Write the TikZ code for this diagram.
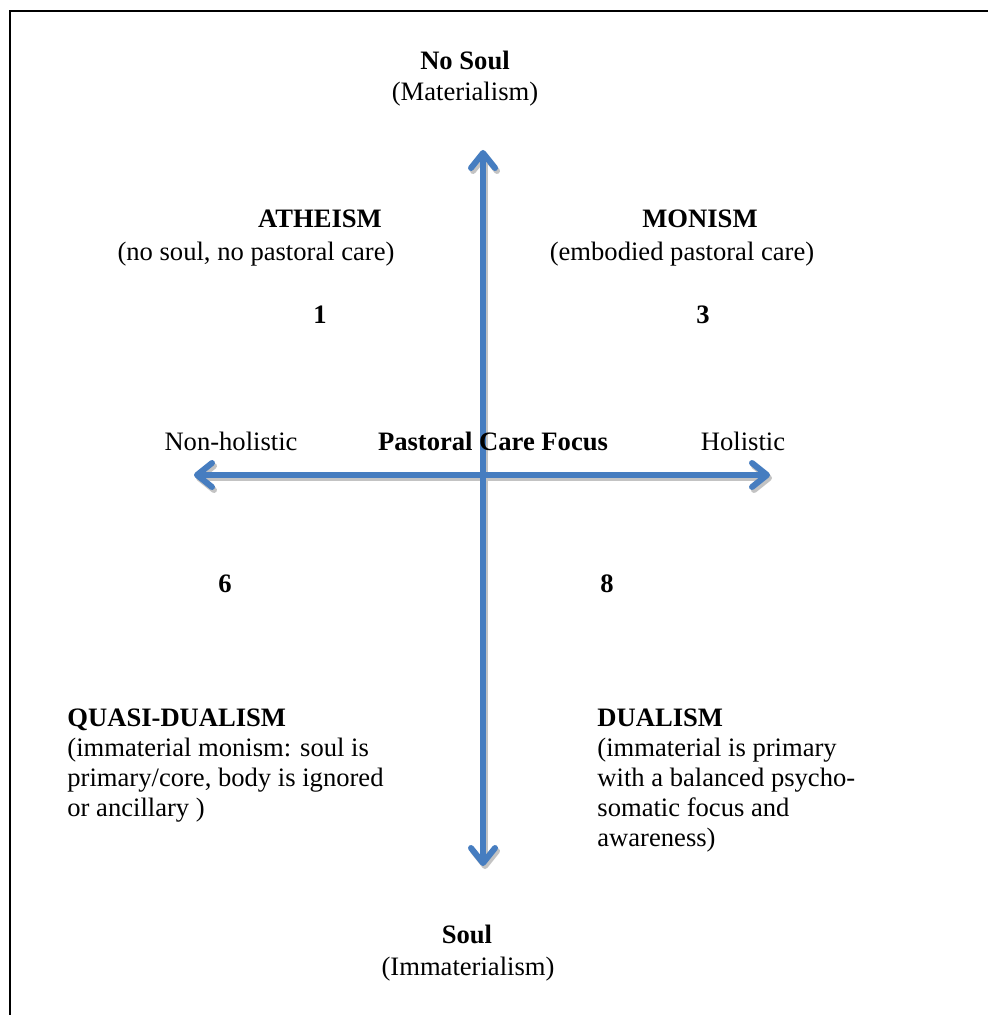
\documentclass[tikz,border=0pt]{standalone}
\usepackage{fontspec}
\setmainfont{Liberation Serif}
\usepackage{xcolor}
\usetikzlibrary{arrows.meta}
\definecolor{axisblue}{RGB}{70,125,192}
\definecolor{axisshade}{RGB}{195,195,195}

\tikzset{
  axis/.style={line width=3pt, draw=axisblue, {Straight Barb[length=7.5pt,width=12pt,round]}-{Straight Barb[length=7.5pt,width=12pt,round]}},
  axisshadow/.style={axis, draw=axisshade, transform canvas={shift={(1pt,-1.5pt)}}},
  label/.style={anchor=base, inner sep=0pt, font=\fontsize{13.3}{15}\selectfont},
  heading/.style={label, font=\fontsize{13.3}{15}\selectfont\bfseries},
  block/.style={anchor=base west, inner sep=0pt, align=left, font=\fontsize{13.3}{15}\selectfont}
}

\begin{document}
\begin{tikzpicture}[x=0.5pt, y=-0.5pt]
  \useasboundingbox (0,0) rectangle (988,1015);
  \draw[line width=1pt] (988,11) -- (10,11) -- (10,1015);

  % the two axes
  \coordinate (top) at (483,150);
  \coordinate (bottom) at (483,866);
  \coordinate (left) at (194,475);
  \coordinate (right) at (770,475);
  \draw[axisshadow] (top) -- (bottom);
  \draw[axisshadow] (left) -- (right);
  \draw[axis] (top) -- (bottom);
  \draw[axis] (left) -- (right);

  % ends of the vertical axis
  \node[heading] (nosoul) at (465,70) {No Soul};
  \node[label] (material) at (465,101) {(Materialism)};
  \node[heading] (soul) at (467,943) {Soul};
  \node[label] (immaterial) at (468,975) {(Immaterialism)};

  % upper quadrants
  \node[heading] (atheism) at (320,228) {ATHEISM};
  \node[label] (atheismtxt) at (256,261) {(no soul, no pastoral care)};
  \node[heading] (monism) at (700,228) {MONISM};
  \node[label] (monismtxt) at (682,261) {(embodied pastoral care)};
  \node[heading] (one) at (320,324) {1};
  \node[heading] (three) at (703,324) {3};

  % horizontal axis labels
  \node[label] (nonholistic) at (231,450) {Non-holistic};
  \node[heading] (focus) at (493,450) {Pastoral Care Focus};
  \node[label] (holistic) at (743,450) {Holistic};

  % lower quadrants (base is the last line)
  \node[heading] (six) at (225,592) {6};
  \node[heading] (eight) at (607,592) {8};
  \node[block] (quasi) at (67,816) {\textbf{QUASI-DUALISM}\\(immaterial monism: soul is\\primary/core, body is ignored\\or ancillary )};
  \node[block] (dualism) at (597,846) {\textbf{DUALISM}\\(immaterial is primary\\with a balanced psycho-\\somatic focus and\\awareness)};
\end{tikzpicture}
\end{document}
